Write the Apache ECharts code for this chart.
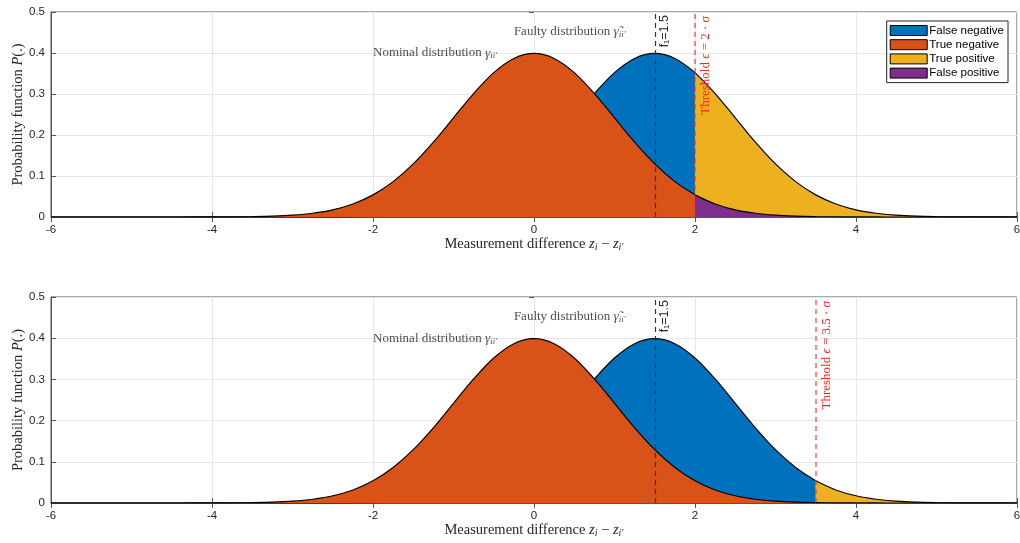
<!DOCTYPE html>
<html><head><meta charset="utf-8">
<script src="https://cdn.jsdelivr.net/npm/echarts@6/dist/echarts.min.js"></script>
<style>html,body{margin:0;padding:0;background:#fff}#c{width:1020px;height:543px}</style>
</head><body><div id="c"></div>
<script>
// ---- data ----
const xs = [-6,-5.75,-5.5,-5.25,-5,-4.75,-4.5,-4.25,-4,-3.75,-3.5,-3.25,-3,-2.75,-2.5,-2.25,-2,-1.75,-1.5,-1.25,-1,-0.75,-0.5,-0.25,0,
  0.25,0.5,0.75,1,1.25,1.5,1.75,2,2.25,2.5,2.75,3,3.25,3.5,3.75,4,4.25,4.5,4.75,5,5.25,5.5,5.75,6];
const nominal = [0,0,0,0,0,0,0,0.0001,0.0001,0.0004,0.0009,0.0020,0.0044,0.0091,0.0175,0.0317,0.0540,0.0863,0.1295,0.1826,0.2420,0.3011,0.3521,0.3867,0.3989,
  0.3867,0.3521,0.3011,0.2420,0.1826,0.1295,0.0863,0.0540,0.0317,0.0175,0.0091,0.0044,0.0020,0.0009,0.0004,0.0001,0.0001,0,0,0,0,0,0,0];
const faulty = [0,0,0,0,0,0,0,0,0,0,0,0,0,0.0001,0.0001,0.0004,0.0009,0.0020,0.0044,0.0091,0.0175,0.0317,0.0540,0.0863,0.1295,0.1826,0.2420,0.3011,0.3521,0.3867,0.3989,
  0.3867,0.3521,0.3011,0.2420,0.1826,0.1295,0.0863,0.0540,0.0317,0.0175,0.0091,0.0044,0.0020,0.0009,0.0004,0.0001,0.0001,0];
const faultValue = 1.5;
const thresholds = [2, 3.5];
const thresholdText = ['2', '3.5'];
const legendNames = ['False negative','True negative','True positive','False positive'];
const fillColors = ['#0072BD','#D95319','#EDB120','#7E2F8E'];
const nominalLabelPos = [-2.0, 0.40];
const faultyLabelPos = [-0.25, 0.452];

// ---- chart ----
const chart = echarts.init(document.getElementById('c'));
const serif = '"Liberation Serif","DejaVu Serif",serif';
const sans = '"Liberation Sans",Arial,sans-serif';
const axisCol = '#555';
const txtCol = '#262626';
const richMath = {
  i:{fontFamily:serif,fontStyle:'italic',fontSize:14.5,color:txtCol},
  s:{fontFamily:serif,fontStyle:'italic',fontSize:10,color:txtCol,verticalAlign:'bottom',padding:[6,0,0,0]}
};
const grids = [
  {left:51, top:12, width:966, height:205, show:true, borderColor:axisCol, borderWidth:1, backgroundColor:'transparent', outerBoundsMode:'none', containLabel:false},
  {left:51, top:297, width:966, height:206, show:true, borderColor:axisCol, borderWidth:1, backgroundColor:'transparent', outerBoundsMode:'none', containLabel:false}
];
const xAxes = [], yAxes = [], series = [];
function pts(arr, cond){ const r=[]; xs.forEach((x,i)=>{ if(cond(x)) r.push([x,arr[i]]); }); return r; }
for (let p=0;p<2;p++){
  xAxes.push({type:'value', gridIndex:p, min:-6, max:6, interval:2,
    axisLine:{show:true, onZero:false, lineStyle:{color:axisCol}}, axisTick:{inside:true,length:5,lineStyle:{color:axisCol}},
    axisLabel:{color:txtCol, fontSize:11.5, fontFamily:sans, margin:7},
    splitLine:{show:true, lineStyle:{color:'#e6e6e6'}},
    name:'Measurement difference {i|z}{s|i} − {i|z}{s|i′}', nameLocation:'middle', nameGap:19,
    nameTextStyle:{fontFamily:serif, fontSize:14.5, color:txtCol, rich:richMath}
  });
  yAxes.push({type:'value', gridIndex:p, min:0, max:0.5, interval:0.1,
    axisLine:{show:true, onZero:false, lineStyle:{color:axisCol}}, axisTick:{show:true,inside:true,length:5,lineStyle:{color:axisCol}},
    axisLabel:{color:txtCol, fontSize:11.5, fontFamily:sans, margin:6},
    splitLine:{show:true, lineStyle:{color:'#e6e6e6'}},
    name:'Probability function {i|P}(.)', nameLocation:'middle', nameGap:25, nameRotate:90, nameMoveOverlap:false,
    nameTextStyle:{fontFamily:serif, fontSize:14.5, color:txtCol, rich:richMath}
  });
  const thr = thresholds[p];
  const parts = [
    pts(faulty, x=>x<=thr), pts(nominal, x=>x<=thr), pts(faulty, x=>x>=thr), pts(nominal, x=>x>=thr)
  ];
  parts.forEach((d,k)=>{
    const s = {name:legendNames[k], type:'line', xAxisIndex:p, yAxisIndex:p, data:d, smooth:0.33,
      z:2+k, showSymbol:false, symbol:'none', silent:true, animation:false,
      lineStyle:{color:'#000', width:1.2}, itemStyle:{color:fillColors[k]}, areaStyle:{color:fillColors[k], opacity:1}};
    if (k===3){
      s.markLine = {symbol:'none', silent:true, animation:false, data:[
        {xAxis:faultValue, lineStyle:{color:'#333', type:[5,4], width:1.2},
          label:{show:true, position:'insideEndBottom', formatter:'f₁=1.5', color:txtCol, fontSize:12.5, fontFamily:sans, distance:3}},
        {xAxis:thr, lineStyle:{color:'rgba(255,40,40,0.75)', type:[5,4], width:1.5},
          label:{show:true, position:'insideEndBottom', distance:4,
            formatter:'Threshold {i|ϵ} = '+thresholdText[p]+' · {i|σ}', color:'#ff2020', fontSize:13, fontFamily:serif,
            rich:{i:{fontFamily:serif,fontStyle:'italic',fontSize:13,color:'#ff2020'}}}}
      ]};
    }
    series.push(s);
  });
  const lblRich = {
    t:{fontFamily:serif,fontSize:13,color:'#1a1a1a'},
    g:{fontFamily:serif,fontStyle:'italic',fontSize:13.5,color:'#1a1a1a'},
    s:{fontFamily:serif,fontStyle:'italic',fontSize:9,color:'#1a1a1a',verticalAlign:'bottom',padding:[6,0,0,0]}
  };
  series.push({type:'scatter', xAxisIndex:p, yAxisIndex:p, symbolSize:0, silent:true, animation:false, z:10,
    data:[nominalLabelPos], label:{show:true, position:'right', distance:0, formatter:'{t|Nominal distribution }{g|γ}{s|ii′}', rich:lblRich}});
  series.push({type:'scatter', xAxisIndex:p, yAxisIndex:p, symbolSize:0, silent:true, animation:false, z:10,
    data:[faultyLabelPos], label:{show:true, position:'right', distance:0, formatter:'{t|Faulty distribution }{g|γ̃}{s|ii′}', rich:lblRich}});
}
// box ticks on top and right edges
for (let p=0;p<2;p++){
  xAxes.push({type:'value', gridIndex:p, position:'top', min:-6, max:6, interval:2,
    axisLine:{show:false}, axisTick:{show:true, inside:true, length:5, lineStyle:{color:axisCol}},
    axisLabel:{show:false}, splitLine:{show:false}});
  yAxes.push({type:'value', gridIndex:p, position:'right', min:0, max:0.5, interval:0.1,
    axisLine:{show:false}, axisTick:{show:true, inside:true, length:5, lineStyle:{color:axisCol}},
    axisLabel:{show:false}, splitLine:{show:false}});
}
chart.setOption({
  animation:false,
  grid:grids, xAxis:xAxes, yAxis:yAxes, series:series,
  legend:{data:legendNames, orient:'vertical', right:12, top:21, borderColor:'#262626', borderWidth:1, backgroundColor:'#fff',
    padding:[3,4,3,3], itemGap:1.2, itemWidth:37, itemHeight:10, icon:'rect', selectedMode:false,
    itemStyle:{borderColor:'#000', borderWidth:1},
    textStyle:{fontSize:11.5, lineHeight:13, color:'#000', fontFamily:sans, padding:[0,0,0,-3]}}
});
</script></body></html>
